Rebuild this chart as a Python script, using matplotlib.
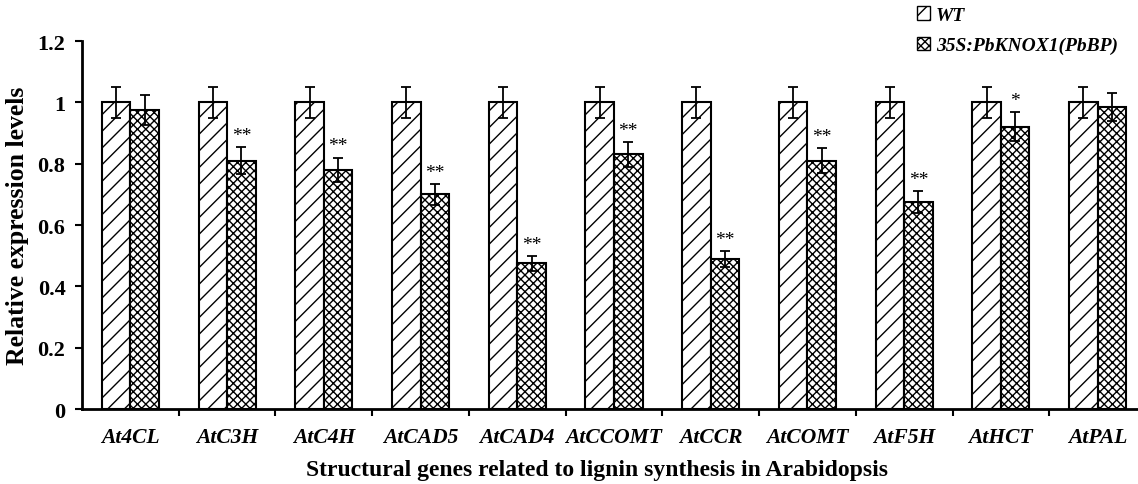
import numpy as np
import matplotlib.pyplot as plt
from matplotlib.patches import Patch

plt.rcParams['font.family'] = ['Liberation Serif', 'DejaVu Serif']
plt.rcParams['hatch.linewidth'] = 1.0

genes = ["At4CL", "AtC3H", "AtC4H", "AtCAD5", "AtCAD4", "AtCCOMT",
         "AtCCR", "AtCOMT", "AtF5H", "AtHCT", "AtPAL"]
wt_vals = [1, 1, 1, 1, 1, 1, 1, 1, 1, 1, 1]
wt_err = [0.05, 0.05, 0.05, 0.05, 0.05, 0.05, 0.05, 0.05, 0.05, 0.05, 0.05]
tg_vals = [0.975, 0.81, 0.78, 0.70, 0.475, 0.83, 0.49, 0.81, 0.675, 0.92, 0.985]
tg_err = [0.05, 0.045, 0.04, 0.035, 0.025, 0.04, 0.026, 0.04, 0.035, 0.047, 0.045]
marks = ["", "**", "**", "**", "**", "**", "**", "**", "**", "*", ""]

fig = plt.figure(figsize=(11.38, 4.85), dpi=100)
ax = fig.add_axes([0.0721, 0.1546, 1.007 - 0.0721, 0.9134 - 0.1546])

x = np.arange(len(genes))
w = 0.295
err_kw = dict(ecolor='black', elinewidth=1.3, capsize=3.6, capthick=1.3)

ax.bar(x - w / 2, wt_vals, w, yerr=wt_err, facecolor='white', edgecolor='black',
       linewidth=1.5, hatch='//', error_kw=err_kw, label='WT')
ax.bar(x + w / 2, tg_vals, w, yerr=tg_err, facecolor='white', edgecolor='black',
       linewidth=1.5, hatch='xxxx', error_kw=err_kw, label='35S:PbKNOX1(PbBP)')

for i, m in enumerate(marks):
    if m:
        ax.text(x[i] + w / 2, tg_vals[i] + tg_err[i] + 0.01, m, ha='center', va='bottom',
                fontsize=14)

ax.set_xlim(-0.5, len(genes) - 0.5)
ax.set_ylim(0, 1.2)
ax.set_yticks([0, 0.2, 0.4, 0.6, 0.8, 1.0, 1.2])
ax.set_yticklabels(["0", "0.2", "0.4", "0.6", "0.8", "1", "1.2"], fontsize=16, fontweight='bold')
ax.set_xticks(x)
ax.set_xticklabels(genes, fontsize=15.5, fontweight='bold', fontstyle='italic')
ax.set_xticks(x[:-1] + 0.5, minor=True)
ax.tick_params(axis='x', which='major', length=0, pad=13)
ax.tick_params(axis='x', which='minor', length=5, width=1.5, direction='out')
ax.tick_params(axis='y', length=5, width=1.5, direction='out', pad=7)

for s in ['top', 'right']:
    ax.spines[s].set_visible(False)
for s in ['left', 'bottom']:
    ax.spines[s].set_linewidth(2)

ax.set_ylabel("Relative expression levels", fontsize=18.5, fontweight='bold', labelpad=6)
ax.set_xlabel("Structural genes related to lignin synthesis in Arabidopsis",
              fontsize=17, fontweight='bold', labelpad=8)
ax.xaxis.set_label_coords(0.484, -0.135)

handles = [Patch(facecolor='white', edgecolor='black', hatch='//', label='WT'),
           Patch(facecolor='white', edgecolor='black', hatch='xxxx', label='35S:PbKNOX1(PbBP)')]
fig.legend(handles=handles, loc='upper left', bbox_to_anchor=(0.79, 1.021), frameon=False,
           handlelength=0.7, handleheight=0.7, handletextpad=0.3, labelspacing=0.65,
           prop=dict(family='Liberation Serif', weight='bold', style='italic', size=14))

fig.savefig("out.png", dpi=100)
